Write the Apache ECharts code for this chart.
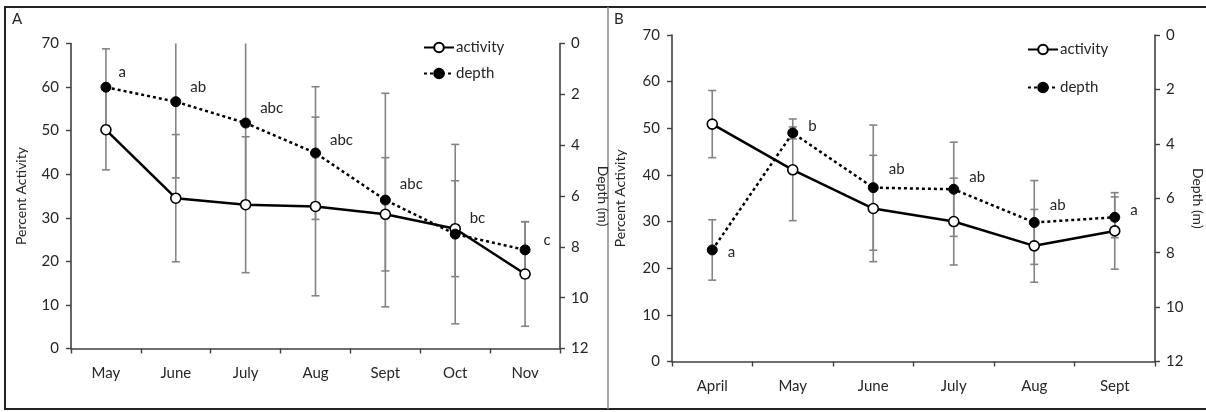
<!DOCTYPE html>
<html>
<head>
<meta charset="utf-8">
<script src="https://cdn.jsdelivr.net/npm/echarts@6/dist/echarts.min.js"></script>
<style>
html,body{margin:0;padding:0;background:#fff;}
#chart{width:1206px;height:412px;}
</style>
</head>
<body>
<div id="chart"></div>
<script>
// ---------- DATA ----------
const catsA = ['May', 'June', 'July', 'Aug', 'Sept', 'Oct', 'Nov'];
const activityA = [50.2, 34.5, 33.0, 32.6, 30.8, 27.5, 17.1];
const activityErrA = [9.2, 14.6, 15.6, 20.5, 13.0, 11.0, 12.0];
const depthA = [1.72, 2.29, 3.13, 4.31, 6.16, 7.50, 8.12];
const depthErrA = [1.51, 3.0, 3.17, 2.61, 4.2, 3.53, 1.11];
const lettersA = ['a', 'ab', 'abc', 'abc', 'abc', 'bc', 'c'];

const catsB = ['April', 'May', 'June', 'July', 'Aug', 'Sept'];
const activityB = [50.9, 41.1, 32.8, 30.0, 24.8, 28.0];
const activityErrB = [7.2, 10.9, 11.4, 9.3, 7.8, 8.2];
const depthB = [7.90, 3.60, 5.61, 5.67, 6.89, 6.70];
const depthErrB = [1.11, 0.22, 2.30, 1.73, 1.54, 0.75];
const lettersB = ['a', 'b', 'ab', 'ab', 'ab', 'a'];

const activityTicks = [0, 10, 20, 30, 40, 50, 60, 70];
const depthTicks = [0, 2, 4, 6, 8, 10, 12];

// ---------- BUILD ----------
const FONT = 'Lato';
const TXT = '#262626';
const AX = '#404040';
const ERR = '#848484';

function errData(vals, errs) {
  return vals.map((v, i) => [i, v - errs[i], v + errs[i]]);
}
function errRender(params, api) {
  const i = api.value(0);
  const p1 = api.coord([i, api.value(1)]);
  const p2 = api.coord([i, api.value(2)]);
  const cs = params.coordSys;
  const top = cs.y, bot = cs.y + cs.height;
  const x = p1[0];
  const ya = Math.min(p1[1], p2[1]), yb = Math.max(p1[1], p2[1]);
  const y1 = Math.max(ya, top), y2 = Math.min(yb, bot);
  const st = { stroke: ERR, lineWidth: 1.6 };
  const ch = [{ type: 'line', shape: { x1: x, y1: y1, x2: x, y2: y2 }, style: st }];
  const w = 4;
  if (ya >= top) ch.push({ type: 'line', shape: { x1: x - w, y1: ya, x2: x + w, y2: ya }, style: st });
  if (yb <= bot) ch.push({ type: 'line', shape: { x1: x - w, y1: yb, x2: x + w, y2: yb }, style: st });
  return { type: 'group', children: ch };
}

function xAxis(idx, cats) {
  return {
    type: 'category', gridIndex: idx, data: cats, boundaryGap: true,
    axisLine: { lineStyle: { color: AX, width: 1.6 } },
    axisTick: { show: true, length: 5, lineStyle: { color: AX, width: 1.4 } },
    axisLabel: { color: TXT, fontSize: 15, fontFamily: FONT, margin: 17 },
    splitLine: { show: false }
  };
}
function yLeft(idx, gap) {
  return {
    type: 'value', gridIndex: idx, position: 'left', min: activityTicks[0],
    max: activityTicks[activityTicks.length - 1], interval: activityTicks[1] - activityTicks[0],
    name: 'Percent Activity', nameLocation: 'middle', nameGap: gap,
    nameTextStyle: { color: TXT, fontSize: 14, fontFamily: FONT },
    axisLine: { show: true, lineStyle: { color: AX, width: 1.6 } },
    axisTick: { show: true, length: 5, lineStyle: { color: AX, width: 1.4 } },
    axisLabel: { color: TXT, fontSize: 15, fontFamily: FONT, margin: 12 },
    splitLine: { show: false }
  };
}
function yRight(idx, gap) {
  return {
    type: 'value', gridIndex: idx, position: 'right', inverse: true,
    min: depthTicks[0], max: depthTicks[depthTicks.length - 1], interval: depthTicks[1] - depthTicks[0],
    name: 'Depth (m)', nameLocation: 'middle', nameGap: gap, nameRotate: -90,
    nameTextStyle: { color: TXT, fontSize: 14, fontFamily: FONT },
    axisLine: { show: true, lineStyle: { color: AX, width: 1.6 } },
    axisTick: { show: true, length: 5, lineStyle: { color: AX, width: 1.4 } },
    axisLabel: { color: TXT, fontSize: 15, fontFamily: FONT, margin: 11 },
    splitLine: { show: false }
  };
}

const labelOffA = [[2, -15], [4, -15], [4, -15], [4, -13], [4, -16], [4, -16], [8, -10]];
const labelOffB = [[5, 2], [5, -7], [5, -18], [5, -12], [5, -17], [5, -7]];

function depthPoints(vals, letters, offs) {
  return vals.map((v, i) => ({
    value: v,
    label: { show: true, position: 'right', offset: offs[i], formatter: letters[i],
             color: TXT, fontSize: 15, fontFamily: FONT }
  }));
}

function seriesFor(g, actV, actE, depV, depE, letters, offs) {
  const xi = g, yl = g * 2, yr = g * 2 + 1;
  return [
    { type: 'custom', xAxisIndex: xi, yAxisIndex: yl, renderItem: errRender,
      data: errData(actV, actE), z: 1, silent: true },
    { type: 'custom', xAxisIndex: xi, yAxisIndex: yr, renderItem: errRender,
      data: errData(depV, depE), z: 1, silent: true },
    { name: 'activity', type: 'line', xAxisIndex: xi, yAxisIndex: yl, data: actV,
      symbol: 'circle', symbolSize: 10, showAllSymbol: true,
      lineStyle: { color: '#000', width: 2.5 },
      itemStyle: { color: '#fff', borderColor: '#000', borderWidth: 1.6 },
      z: 3, animation: false },
    { name: 'depth', type: 'line', xAxisIndex: xi, yAxisIndex: yr,
      data: depthPoints(depV, letters, offs),
      symbol: 'circle', symbolSize: 10, showAllSymbol: true,
      lineStyle: { color: '#000', width: 2.5, type: [3, 3] },
      itemStyle: { color: '#000', borderColor: '#000', borderWidth: 1 },
      z: 4, animation: false }
  ];
}

const option = {
  backgroundColor: '#fff',
  animation: false,
  textStyle: { fontFamily: FONT },
  grid: [
    { left: 71, top: 43.5, width: 489, height: 305 },
    { left: 672, top: 35, width: 489, height: 326.5 }
  ],
  xAxis: [xAxis(0, catsA), xAxis(1, catsB)],
  yAxis: [yLeft(0, 43), yRight(0, 36), yLeft(1, 45), yRight(1, 36)],
  legend: [
    { data: ['activity', 'depth'], orient: 'vertical', left: 418, top: 35,
      itemWidth: 30, itemHeight: 12, itemGap: 11, selectedMode: false,
      textStyle: { color: TXT, fontSize: 15, fontFamily: FONT, padding: [0, 0, 0, -3] } },
    { data: ['activity', 'depth'], orient: 'vertical', left: 1022, top: 37,
      itemWidth: 30, itemHeight: 12, itemGap: 23, selectedMode: false,
      textStyle: { color: TXT, fontSize: 15, fontFamily: FONT, padding: [0, 0, 0, -3] } }
  ],
  graphic: [
    { type: 'rect', shape: { x: 5, y: 7, width: 1202, height: 402 },
      style: { fill: 'none', stroke: '#222', lineWidth: 2 }, silent: true, z: 0 },
    { type: 'line', shape: { x1: 608, y1: 7, x2: 608, y2: 409 },
      style: { stroke: '#888', lineWidth: 1.5 }, silent: true, z: 0 },
    { type: 'text', left: 12, top: 12, style: { text: 'A', fontSize: 15, fontFamily: FONT, fill: TXT } },
    { type: 'text', left: 614, top: 12, style: { text: 'B', fontSize: 15, fontFamily: FONT, fill: TXT } }
  ],
  series: [].concat(
    seriesFor(0, activityA, activityErrA, depthA, depthErrA, lettersA, labelOffA),
    seriesFor(1, activityB, activityErrB, depthB, depthErrB, lettersB, labelOffB)
  )
};

const chart = echarts.init(document.getElementById('chart'), null, { renderer: 'canvas' });
chart.setOption(option);
</script>
</body>
</html>
